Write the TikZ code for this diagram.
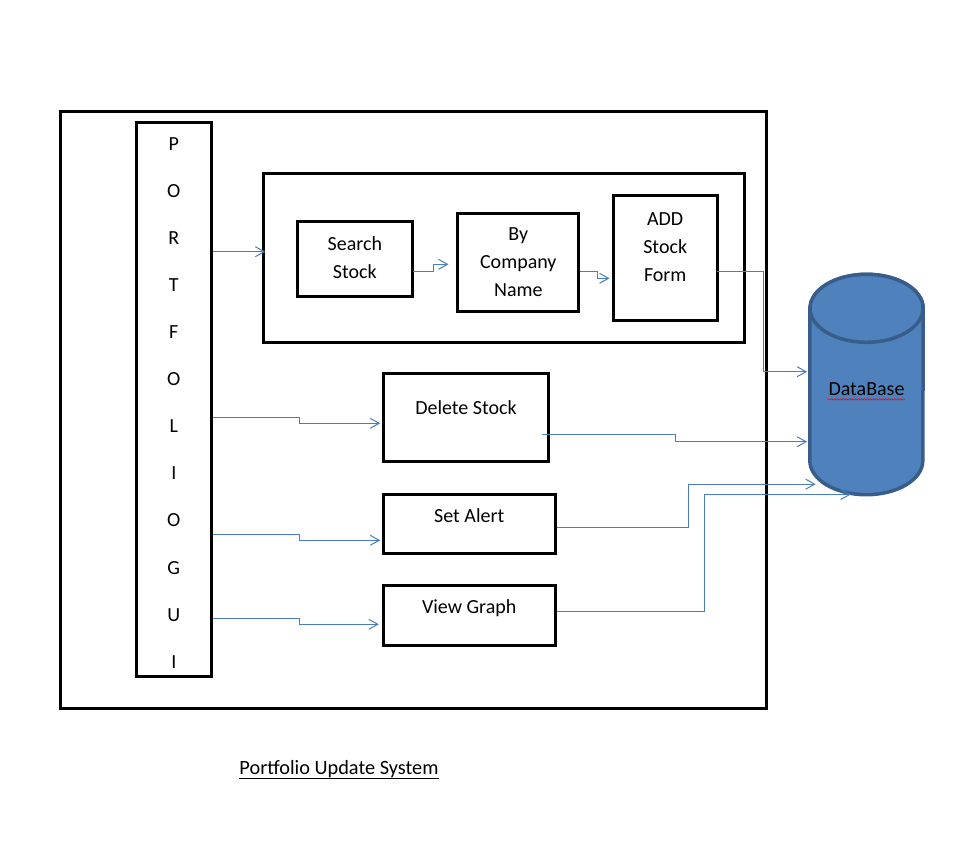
\documentclass[tikz,border=0pt]{standalone}
\usepackage{fontspec}
\setmainfont{Carlito}
\usetikzlibrary{arrows.meta}
\usetikzlibrary{calc}
\usetikzlibrary{backgrounds}
\usetikzlibrary{decorations.pathmorphing}
\definecolor{linkblue}{HTML}{4A7EBB}
\definecolor{dbblue}{HTML}{4F81BD}
\definecolor{dbedge}{HTML}{385D8A}
\def\mytext{\fontsize{20pt}{27.7pt}\selectfont}
\def\lift#1{\rule[-#1]{0pt}{0pt}}
\def\sink#1{\rule{0pt}{#1}}
\tikzset{
semithick, % thin lines by default
>={Straight Barb[length=9pt,width=10pt]}, % open office style tips
my node/.style={font=\mytext,inner sep=0pt,align=center},
my box/.style={draw,my node,line width=3pt},
my frame/.style={draw,line width=3pt,inner sep=0pt},
my line/.style={my box,text height=15pt},
my link/.style={->,draw=linkblue,line width=1pt},
my db/.style={my node,minimum width=113pt,minimum height=220pt,text height=23pt},
my db body/.style={fill=dbblue,draw=dbedge,line width=3.5pt},
}
\begin{document}
\begin{tikzpicture}[x=1pt,y=-1pt]
\useasboundingbox (0,0) rectangle (965,845);

\node[my frame,minimum width=706pt,minimum height=597pt] (sys) at (413.5,410) {};
\node[my box,font=\fontsize{20pt}{47.1pt}\selectfont,minimum width=74.5pt,minimum height=554.6pt] (gui) at (173.8,399.5)
  {\sink{19.3pt}P\\O\\R\\T\\F\\O\\L\\I\\O\\G\\U\\I};

% add stock group
\node[my frame,minimum width=481pt,minimum height=169.6pt] (grp) at (504.3,258) {};
\node[my box,minimum width=115.4pt,minimum height=74.4pt] (search)  at (354.8,259)   {Search\\Stock\lift{3pt}};
\node[my box,minimum width=121pt,minimum height=98pt]     (company) at (518.3,262.2) {By\\Company\\Name};
\node[my box,minimum width=103.6pt,minimum height=124.4pt] (add)    at (665.2,258)   {ADD\\Stock\\Form\lift{22pt}};

\node[my line,text depth=21.4pt,minimum width=165.4pt,minimum height=87.7pt] (delete) at (466,417.2)   {Delete Stock};
\node[my line,text depth=18.8pt,minimum width=172pt,minimum height=58.7pt]   (alert)  at (469.2,524.2) {Set Alert};
\node[my line,text depth=19.4pt,minimum width=172pt,minimum height=59.4pt]   (graph)  at (469.2,615.5) {View Graph};

\node[my db] (db) at (866.5,384.5) {DataBase};
\draw[red,line width=0.6pt,decorate,decoration={snake,amplitude=0.7pt,segment length=3pt}]
  ($(db.center)+(-38.8,14.8)$) -- ($(db.center)+(38.5,14.8)$);

\node[my node,font=\fontsize{20.3pt}{24pt}\selectfont,anchor=base] (title) at (339,774.3) {Portfolio Update System};
\draw[line width=1pt] ([yshift=-4pt]title.base west) -- ([yshift=-4pt]title.base east);

% links
\draw[my link] ([yshift=147.8pt]gui.east) -- ([xshift=3pt,yshift=6.3pt]grp.west);
\draw[my link] ([xshift=-1.5pt,yshift=-12.7pt]search.east) -- ++(20.5,0) |- ([xshift=-7.8pt,yshift=-2.1pt]company.west);
\draw[my link] ([xshift=-0.8pt,yshift=-9.5pt]company.east) -- ++(18,0) |- ([xshift=-2.4pt,yshift=-20.3pt]add.west);
\draw[my link] ([xshift=-2pt,yshift=-13.7pt]add.east) -- ++(46.5,0) |- ([xshift=-2.7pt,yshift=12.8pt]db.west);

\draw[my link] ([yshift=-17.8pt]gui.east)  -- ++(87,0) |- ([xshift=-1.6pt,yshift=-6.1pt]delete.west);
\draw[my link] ([yshift=-134.8pt]gui.east) -- ++(87,0) |- ([xshift=-1.5pt,yshift=-16.1pt]alert.west);
\draw[my link] ([yshift=-218.8pt]gui.east) -- ++(87,0) |- ([xshift=-2.9pt,yshift=-8.8pt]graph.west);

\draw[my link] ([xshift=-8.7pt,yshift=-17.1pt]delete.east) -- ++(134,0) |- ([xshift=-2.7pt,yshift=-57.2pt]db.west);
\draw[my link] ([yshift=-3.1pt]alert.east) -- ++(132,0) |- ([xshift=-50.8pt,yshift=10.5pt]db.south);
\draw[my link] ([yshift=4.5pt]graph.east)  -- ++(148,0) |- ([xshift=-15.8pt,yshift=0.2pt]db.south);

% database drum
\begin{scope}[on background layer]
\path[my db body] ($(db.north west)+(0,34)$) -- ($(db.south west)+(0,-34)$)
  arc[start angle=180,end angle=360,x radius=56.5pt,y radius=34pt]
  -- ($(db.north east)+(0,34)$)
  arc[start angle=0,end angle=180,x radius=56.5pt,y radius=34pt] -- cycle;
\path[my db body] ($(db.north)+(0,34)$) ellipse[x radius=56.5pt,y radius=34pt];
\end{scope}
\end{tikzpicture}
\end{document}
